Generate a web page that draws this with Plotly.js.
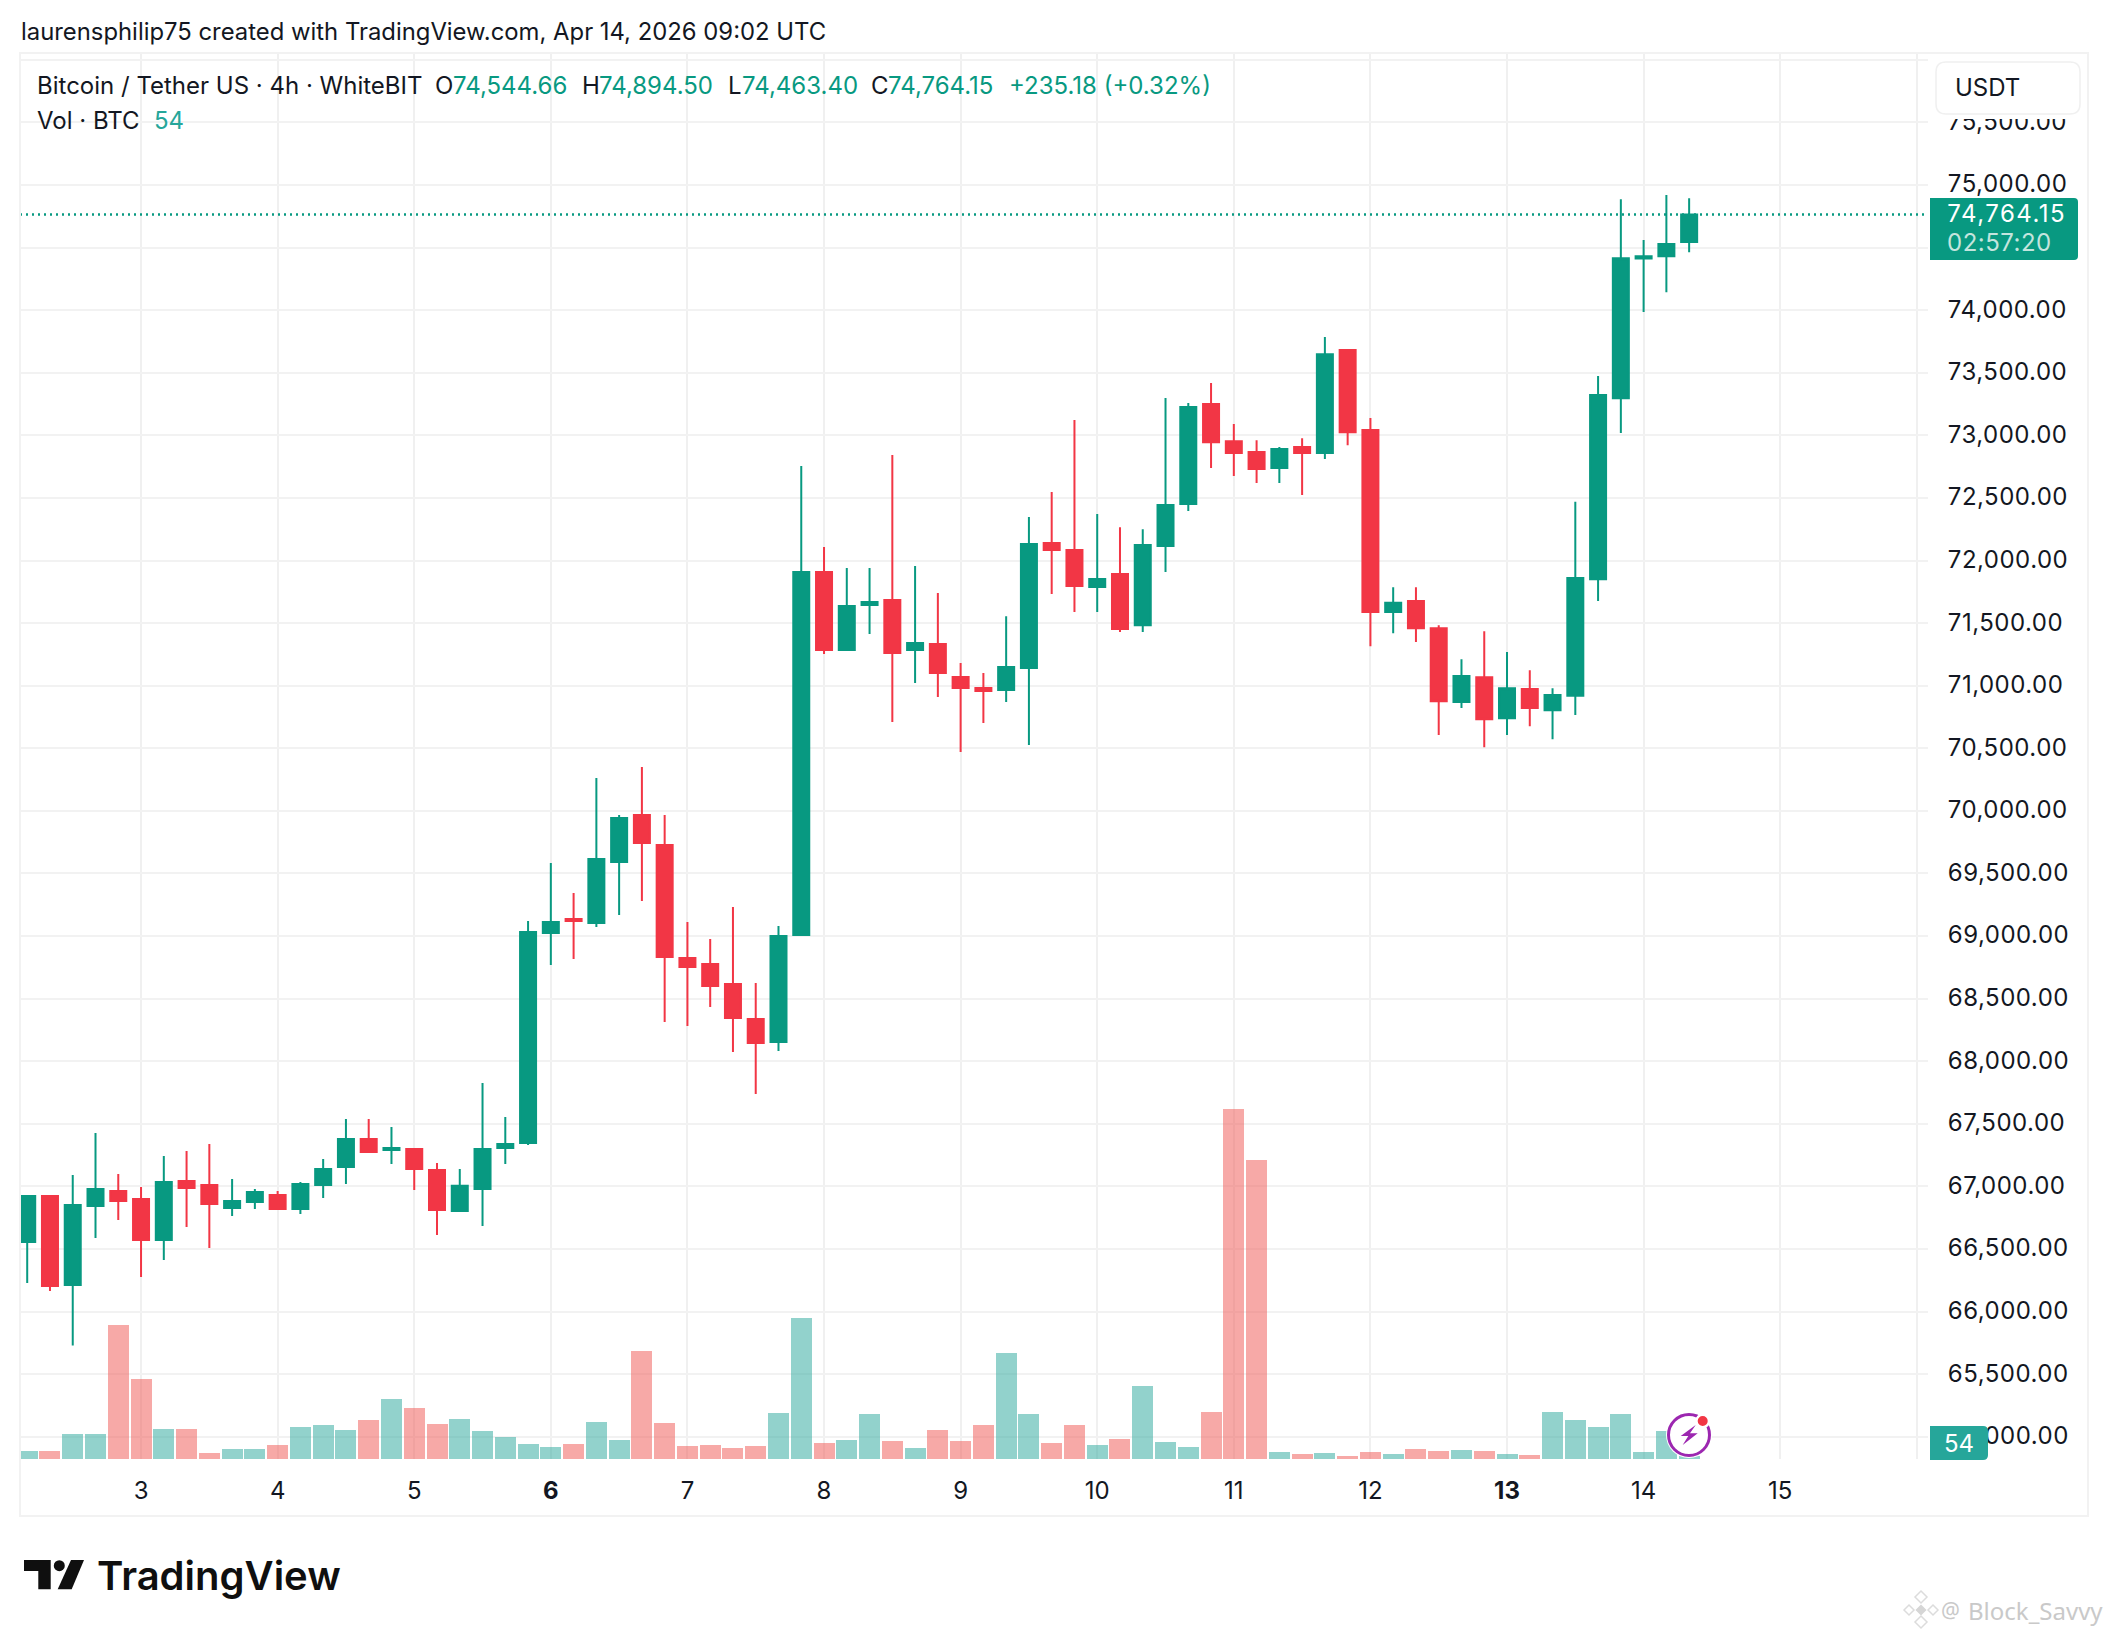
<!DOCTYPE html>
<html>
<head>
<meta charset="utf-8">
<script src="https://cdn.plot.ly/plotly-3.0.1.min.js"></script>
<style>
html,body{margin:0;padding:0;background:#fff}#chart{width:2108px;height:1636px}
.ytick text,.annotation[data-index="15"] text{font-variant-numeric:tabular-nums;letter-spacing:.5px}
.annotation[data-index="14"] text{font-variant-numeric:tabular-nums;letter-spacing:1.5px}
</style>
</head>
<body>
<div id="chart"></div>
<script>
const times = [
"2026-04-02 04:00","2026-04-02 08:00","2026-04-02 12:00","2026-04-02 16:00","2026-04-02 20:00",
"2026-04-03 00:00","2026-04-03 04:00","2026-04-03 08:00","2026-04-03 12:00","2026-04-03 16:00","2026-04-03 20:00",
"2026-04-04 00:00","2026-04-04 04:00","2026-04-04 08:00","2026-04-04 12:00","2026-04-04 16:00","2026-04-04 20:00",
"2026-04-05 00:00","2026-04-05 04:00","2026-04-05 08:00","2026-04-05 12:00","2026-04-05 16:00","2026-04-05 20:00",
"2026-04-06 00:00","2026-04-06 04:00","2026-04-06 08:00","2026-04-06 12:00","2026-04-06 16:00","2026-04-06 20:00",
"2026-04-07 00:00","2026-04-07 04:00","2026-04-07 08:00","2026-04-07 12:00","2026-04-07 16:00","2026-04-07 20:00",
"2026-04-08 00:00","2026-04-08 04:00","2026-04-08 08:00","2026-04-08 12:00","2026-04-08 16:00","2026-04-08 20:00",
"2026-04-09 00:00","2026-04-09 04:00","2026-04-09 08:00","2026-04-09 12:00","2026-04-09 16:00","2026-04-09 20:00",
"2026-04-10 00:00","2026-04-10 04:00","2026-04-10 08:00","2026-04-10 12:00","2026-04-10 16:00","2026-04-10 20:00",
"2026-04-11 00:00","2026-04-11 04:00","2026-04-11 08:00","2026-04-11 12:00","2026-04-11 16:00","2026-04-11 20:00",
"2026-04-12 00:00","2026-04-12 04:00","2026-04-12 08:00","2026-04-12 12:00","2026-04-12 16:00","2026-04-12 20:00",
"2026-04-13 00:00","2026-04-13 04:00","2026-04-13 08:00","2026-04-13 12:00","2026-04-13 16:00","2026-04-13 20:00",
"2026-04-14 00:00","2026-04-14 04:00","2026-04-14 08:00"];
const opens = [66556,66923,66212,66843,66963,66899,66572,67043,67011,66827,66875,66931,66819,67011,67155,67379,67291,67299,67131,66804,66979,67307,67347,69024,69136,69104,69592,69967,69727,68825,68777,68617,68337,68154,69008,71908,71285,71644,71684,71285,71333,71069,70981,70965,71141,72140,72084,71788,71892,71484,72116,72451,73250,72954,72867,72739,72907,72860,73682,73043,71588,71677,71460,70870,71068,70741,70974,70805,70919,71851,73297,74413,74432,74544.66];
const highs = [66931,66923,67091,67427,67099,66995,67243,67283,67339,67059,66979,66963,67035,67219,67539,67539,67475,67307,67187,67139,67826,67554,69120,69584,69344,70263,69967,70351,69967,69112,68977,69232,68625,69080,72755,72108,71940,71940,72843,71956,71740,71181,71101,71556,72347,72547,73122,72371,72267,72251,73298,73258,73418,73090,72962,72907,72978,73786,73689,73138,71787,71787,71484,71212,71435,71270,71123,70980,72469,73475,74887,74560,74921,74894.50];
const lows = [66228,66164,65728,66588,66732,66276,66412,66676,66508,66764,66819,66811,66780,66907,67019,67267,67179,66971,66612,66804,66684,67179,67331,68769,68817,69072,69168,69280,68313,68282,68433,68074,67738,68082,69000,71253,71285,71413,70710,71021,70909,70470,70702,70869,70526,71732,71588,71588,71429,71429,71908,72395,72739,72675,72619,72619,72523,72811,72921,71316,71420,71350,70607,70821,70509,70607,70677,70573,70766,71677,73019,73985,74144,74463.40];
const closes = [66923,66204,66851,66979,66883,66572,67035,66987,66859,66883,66955,66819,67019,67139,67379,67275,67307,67139,66812,67005,67299,67339,69032,69112,69120,69616,69943,69743,68833,68753,68601,68345,68146,69000,71908,71285,71636,71668,71261,71341,71101,70981,70957,71149,72132,72084,71796,71852,71453,72124,72443,73226,72946,72859,72731,72891,72859,73649,73025,71588,71662,71460,70876,71078,70732,70980,70821,70925,71860,73322,74416,74432,74529,74764.15];
const volumes = [144,144,450,450,2412,1440,540,540,108,180,180,252,576,612,522,702,1080,918,630,720,504,396,270,216,270,666,342,1944,648,234,252,198,234,828,2538,288,342,810,324,198,522,324,612,1908,810,288,612,252,360,1314,306,216,846,6300,5382,126,90,108,54,126,90,180,144,162,144,90,72,846,702,576,810,126,504,54];
const dayTicks = ["2026-04-03","2026-04-04","2026-04-05","2026-04-06","2026-04-07","2026-04-08","2026-04-09","2026-04-10","2026-04-11","2026-04-12","2026-04-13","2026-04-14","2026-04-15","2026-04-16"];
const dayLabels = ["3","4","5","<b>6</b>","7","8","9","10","11","12","<b>13</b>","14","15",""];
const priceTicks = [65000,65500,66000,66500,67000,67500,68000,68500,69000,69500,70000,70500,71000,71500,72000,72500,73000,73500,74000,74500,75000,75500,76000];
const lastPrice = 74764.15;

const GREEN = '#089981', RED = '#F23645', INK = '#131722', FONT = 'Inter, "Noto Sans", sans-serif';
const L = 20, R = 1928, T = 54, B = 1459;
const px = x => (x - L) / (R - L);
const py = y => (B - y) / (B - T);

function note(x, y, text, size, color, opt) {
  return Object.assign({ xref: 'paper', yref: 'paper', x: px(x), y: py(y), text: text, showarrow: false,
    xanchor: 'left', yanchor: 'middle', borderpad: 0, font: { family: FONT, size: size, color: color } }, opt || {});
}
function poly(points, fill, extra) {
  const d = points.map((p, i) => (i ? 'L' : 'M') + px(p[0]) + ',' + py(p[1])).join(' ') + ' Z';
  return Object.assign({ type: 'path', xref: 'paper', yref: 'paper', path: d, fillcolor: fill, line: { width: 0 }, layer: 'above' }, extra || {});
}
function box(x0, y0, x1, y1, fill, line, lw) {
  return { type: 'rect', xref: 'paper', yref: 'paper', x0: px(x0), x1: px(x1), y0: py(y0), y1: py(y1), fillcolor: fill, line: { color: line || fill, width: lw === undefined ? 0 : lw }, layer: 'above' };
}
function disc(cx, cy, r, fill, line, lw) {
  return { type: 'circle', xref: 'paper', yref: 'paper', x0: px(cx - r), x1: px(cx + r), y0: py(cy + r), y1: py(cy - r), fillcolor: fill, line: { color: line || fill, width: lw || 0 }, layer: 'above' };
}
function rounded(x0, y0, x1, y1, rl, rr, fill, line, lw) {
  const c = (x, y) => px(x) + ',' + py(y);
  const d = 'M' + c(x0 + rl, y0) + ' L' + c(x1 - rr, y0) + ' Q' + c(x1, y0) + ' ' + c(x1, y0 + rr) +
    ' L' + c(x1, y1 - rr) + ' Q' + c(x1, y1) + ' ' + c(x1 - rr, y1) + ' L' + c(x0 + rl, y1) +
    ' Q' + c(x0, y1) + ' ' + c(x0, y1 - rl) + ' L' + c(x0, y0 + rl) + ' Q' + c(x0, y0) + ' ' + c(x0 + rl, y0) + ' Z';
  return { type: 'path', xref: 'paper', yref: 'paper', path: d, fillcolor: fill, line: { color: line || fill, width: lw || 0 }, layer: 'above' };
}
function diamond(cx, cy, r, fill, line) {
  return poly([[cx, cy - r], [cx + r, cy], [cx, cy + r], [cx - r, cy]], fill, { line: { color: line, width: 1.5 } });
}

const volColors = opens.map((o, i) => closes[i] >= o ? 'rgba(38,166,154,0.5)' : 'rgba(239,83,80,0.5)');

const traces = [
  { type: 'bar', x: times, y: volumes, yaxis: 'y2', width: 13280000, marker: { color: volColors, line: { width: 0 } }, hoverinfo: 'skip', showlegend: false },
  { type: 'candlestick', x: times, open: opens, high: highs, low: lows, close: closes,
    increasing: { line: { color: GREEN, width: 2 }, fillcolor: GREEN },
    decreasing: { line: { color: RED, width: 2 }, fillcolor: RED },
    whiskerwidth: 0, hoverinfo: 'skip', showlegend: false }
];

const shapes = [
  { type: 'line', xref: 'paper', yref: 'y', x0: 0, x1: 1, y0: lastPrice, y1: lastPrice, line: { color: GREEN, width: 2.5, dash: '2px,4px' }, layer: 'above' },
  box(1930, 40, 2087, 119, '#ffffff'),
  rounded(1936, 62, 2080, 114, 10, 10, '#ffffff', '#f0f0f0', 1.5),
  box(20, 53, 2088, 1516, 'rgba(0,0,0,0)', '#f2f2f2', 2),
  rounded(1930, 198, 2078, 260, 0, 4, GREEN),
  rounded(1930, 1426, 1988, 1460, 0, 5, '#26a69a'),
  disc(1689, 1435, 23, '#ffffff'),
  disc(1689, 1435, 20.5, '#ffffff', '#9c27b0', 3),
  poly([[1695.7, 1425], [1680.7, 1436], [1688.3, 1436], [1682.7, 1445], [1697.7, 1433.3], [1690, 1433.3]], '#9c27b0'),
  disc(1702.7, 1421, 7.5, '#ffffff'),
  disc(1702.7, 1421, 5, '#f23645'),
  poly([[24, 1560], [50.7, 1560], [50.7, 1589.3], [38.3, 1589.3], [38.3, 1571], [24, 1571]], '#0f0f0f'),
  disc(59.3, 1565.7, 5.5, '#0f0f0f'),
  poly([[71, 1560], [84, 1560], [71.7, 1589.3], [57.7, 1589.3]], '#0f0f0f'),
  diamond(1921, 1597, 6, 'rgba(0,0,0,0)', '#dcdcdc'),
  diamond(1909, 1610, 5, 'rgba(0,0,0,0)', '#dcdcdc'),
  diamond(1933, 1610, 5, 'rgba(0,0,0,0)', '#dcdcdc'),
  diamond(1921, 1610, 4.5, '#d6d6d6', '#d6d6d6'),
  diamond(1921, 1622, 6, 'rgba(0,0,0,0)', '#dcdcdc')
];

const annotations = [
  note(20, 32, 'laurensphilip75 created with TradingView.com, Apr 14, 2026 09:02 UTC', 23.85, INK),
  note(36, 85.5, 'Bitcoin / Tether US · 4h · WhiteBIT', 24, INK),
  note(434, 85.5, 'O', 24, INK), note(452, 85.5, '74,544.66', 24, GREEN),
  note(581, 85.5, 'H', 24, INK), note(598, 85.5, '74,894.50', 24, GREEN),
  note(727, 85.5, 'L', 24, INK), note(741, 85.5, '74,463.40', 24, GREEN),
  note(870, 85.5, 'C', 24, INK), note(887, 85.5, '74,764.15', 24, GREEN),
  note(1008, 85.5, '+235.18 (+0.32%)', 24, GREEN),
  note(36, 120, 'Vol · BTC', 24, INK), note(153, 120, '54', 24, '#26a69a'),
  note(1954, 88, 'USDT', 24, INK),
  note(1953, 214, '74,764.15', 24, '#ffffff'),
  note(1948, 242, '02:57:20', 24, '#c3e5de'),
  note(1959, 1443, '54', 24, '#ffffff', { xanchor: 'center' }),
  note(96, 1575, 'TradingView', 40, '#0f0f0f', { font: { family: FONT, size: 40, color: '#0f0f0f', weight: 600 } }),
  note(1940, 1610, '@', 21, '#c9c9c9', { font: { family: '"Noto Sans", sans-serif', size: 21, color: '#c9c9c9' } }),
  note(1967, 1610, 'Block_Savvy', 24, '#c9c9c9', { font: { family: '"Noto Sans", sans-serif', size: 24, color: '#c9c9c9' } })
];

const layout = {
  width: 2108, height: 1636, autosize: false,
  margin: { l: L, r: 2108 - R, t: T, b: 1636 - B, pad: 0 },
  paper_bgcolor: '#ffffff', plot_bgcolor: '#ffffff', showlegend: false, bargap: 0,
  boxgap: 0.297, boxgroupgap: 0,
  font: { family: FONT, color: INK, size: 24 },
  xaxis: {
    type: 'date', range: ['2026-04-02 02:44', '2026-04-16 01:58'], rangeslider: { visible: false },
    tickmode: 'array', tickvals: dayTicks, ticktext: dayLabels,
    showgrid: true, gridcolor: '#f0f0f0', gridwidth: 2, zeroline: false, showline: false,
    ticks: 'outside', ticklen: 10, tickcolor: 'rgba(0,0,0,0)', tickfont: { family: FONT, size: 24, color: INK }
  },
  yaxis: {
    side: 'right', range: [64822, 76047], tickmode: 'array', tickvals: priceTicks,
    ticktext: priceTicks.map(v => v.toLocaleString('en-US', { minimumFractionDigits: 2, maximumFractionDigits: 2 })),
    showgrid: true, gridcolor: '#f2f2f2', gridwidth: 2, zeroline: false, showline: false, ticklabelshift: -1,
    ticks: 'outside', ticklen: 14, tickcolor: 'rgba(0,0,0,0)', tickfont: { family: FONT, size: 24, color: INK }
  },
  yaxis2: { overlaying: 'y', side: 'left', range: [0, 25290], visible: false, showgrid: false, zeroline: false },
  shapes: shapes, annotations: annotations
};
Plotly.newPlot('chart', traces, layout, { displayModeBar: false, staticPlot: true });
</script>
</body>
</html>
